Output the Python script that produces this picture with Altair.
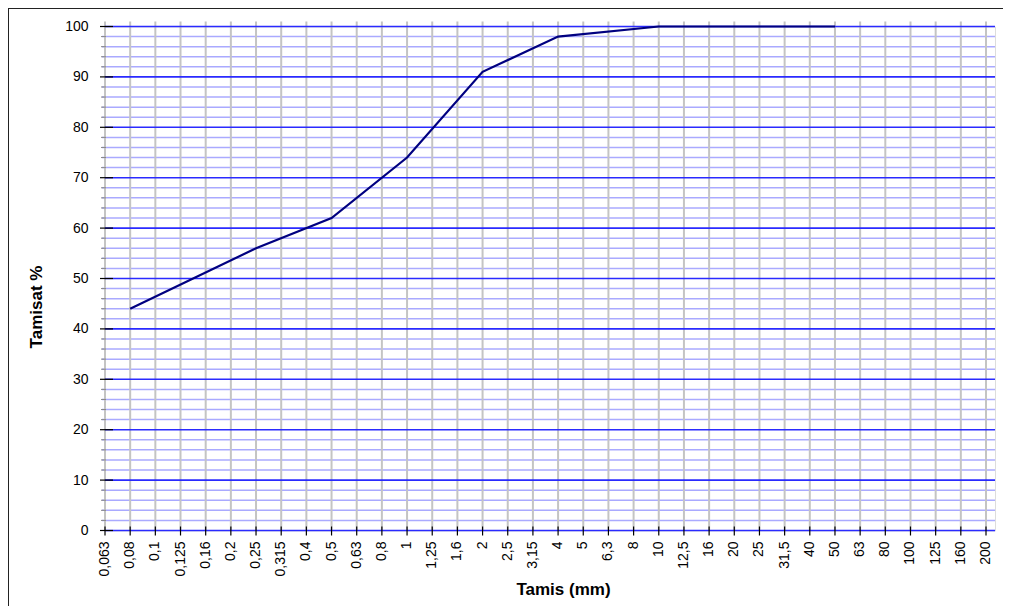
import altair as alt
import pandas as pd

sieves = ["0,063", "0,08", "0,1", "0,125", "0,16", "0,2", "0,25", "0,315", "0,4", "0,5",
          "0,63", "0,8", "1", "1,25", "1,6", "2", "2,5", "3,15", "4", "5", "6,3", "8",
          "10", "12,5", "16", "20", "25", "31,5", "40", "50", "63", "80", "100", "125",
          "160", "200"]

curve_sieves = ["0,08", "0,25", "0,5", "1", "2", "4", "10", "50"]
curve_values = [44, 56, 62, 74, 91, 98, 100, 100]

major_y = [0, 10, 20, 30, 40, 50, 60, 70, 80, 90, 100]
minor_y = [v for v in range(0, 101, 2) if v % 10 != 0]

W, H = 890, 504
LAST_PX = 881  # pixel position of last sieve within the plot width

idx = list(range(len(sieves)))
xmax = (len(sieves) - 1) * W / LAST_PX
xscale = alt.Scale(domain=[0, xmax], nice=False, zero=False)
yscale = alt.Scale(domain=[0, 100])

df_cat = pd.DataFrame({"sieve": sieves, "i": idx})
df_curve = pd.DataFrame({"sieve": curve_sieves,
                         "i": [sieves.index(s) for s in curve_sieves],
                         "pct": curve_values})
df_major = pd.DataFrame({"v": major_y})
df_minor = pd.DataFrame({"v": minor_y})

minor = alt.Chart(df_minor).mark_rule(color="#aaaaff", strokeWidth=1.5).encode(
    y=alt.Y("v:Q", scale=yscale,
            axis=alt.Axis(title="Tamisat %", values=major_y, labelFontSize=14,
                          labelFont="Liberation Sans", labelColor="#000000",
                          labelPadding=17, ticks=False, domain=False, grid=False,
                          titleFont="Liberation Sans", titleFontSize=17,
                          titleFontWeight="bold", titleColor="#000000",
                          titleBaseline="middle", titleAlign="center",
                          titleX=-69, titleY=280)),
    x=alt.value(-3), x2=alt.value(W),
)

vgrid = alt.Chart(df_cat).mark_rule(color="#c4c4c4", strokeWidth=2).encode(
    x=alt.X("i:Q", scale=xscale,
            axis=alt.Axis(title="Tamis (mm)", labels=False,
                          ticks=False, domain=False, grid=False,
                          titleFont="Liberation Sans", titleFontSize=17,
                          titleFontWeight="bold", titleColor="#000000",
                          titleBaseline="middle", titleAlign="center",
                          titleY=59, titleX=458)),
    y=alt.value(-5), y2=alt.value(H),
)

xlabels = alt.Chart(df_cat).mark_text(
    angle=270, align="right", baseline="middle", fontSize=14,
    font="Liberation Sans", color="#000000",
).encode(
    x=alt.X("i:Q", scale=xscale),
    y=alt.value(H + 11),
    text="sieve:N",
)

major = alt.Chart(df_major).mark_rule(color="#2a2aff", strokeWidth=1.6).encode(
    y=alt.Y("v:Q", scale=yscale), x=alt.value(0), x2=alt.value(W),
)

ytick_major = alt.Chart(df_major).mark_rule(color="#000000", strokeWidth=1.2).encode(
    y=alt.Y("v:Q", scale=yscale), x=alt.value(-5), x2=alt.value(8),
)

ytick_minor = alt.Chart(df_minor).mark_rule(color="#888888", strokeWidth=1).encode(
    y=alt.Y("v:Q", scale=yscale), x=alt.value(-4), x2=alt.value(1),
)

xtick = alt.Chart(df_cat).mark_rule(color="#000000", strokeWidth=1.2).encode(
    x=alt.X("i:Q", scale=xscale),
    y=alt.value(H - 4), y2=alt.value(H + 5),
)

line = alt.Chart(df_curve).mark_line(color="#000080", strokeWidth=2.2).encode(
    x=alt.X("i:Q", scale=xscale),
    y=alt.Y("pct:Q", scale=yscale),
    order="i:Q",
)

frame_top = alt.Chart(df_major.head(1)).mark_rule(color="#222222", strokeWidth=1).encode(
    x=alt.value(-97), x2=alt.value(W + 20), y=alt.value(-18)
)
frame_left = alt.Chart(df_major.head(1)).mark_rule(color="#222222", strokeWidth=1).encode(
    x=alt.value(-96.5), y=alt.value(-18), y2=alt.value(H + 90)
)

chart = alt.layer(
    minor, vgrid, major, ytick_minor, ytick_major, xtick, xlabels, line,
    frame_top, frame_left
).resolve_scale(x="shared", y="shared").properties(
    width=W, height=H,
    padding={"left": 97, "top": 18.5, "right": 8, "bottom": 75},
    autosize=alt.AutoSizeParams(type="none"),
).configure_view(stroke=None).configure(background="#ffffff")

chart.save("out.html", embed_options={"renderer": "svg", "actions": False})
